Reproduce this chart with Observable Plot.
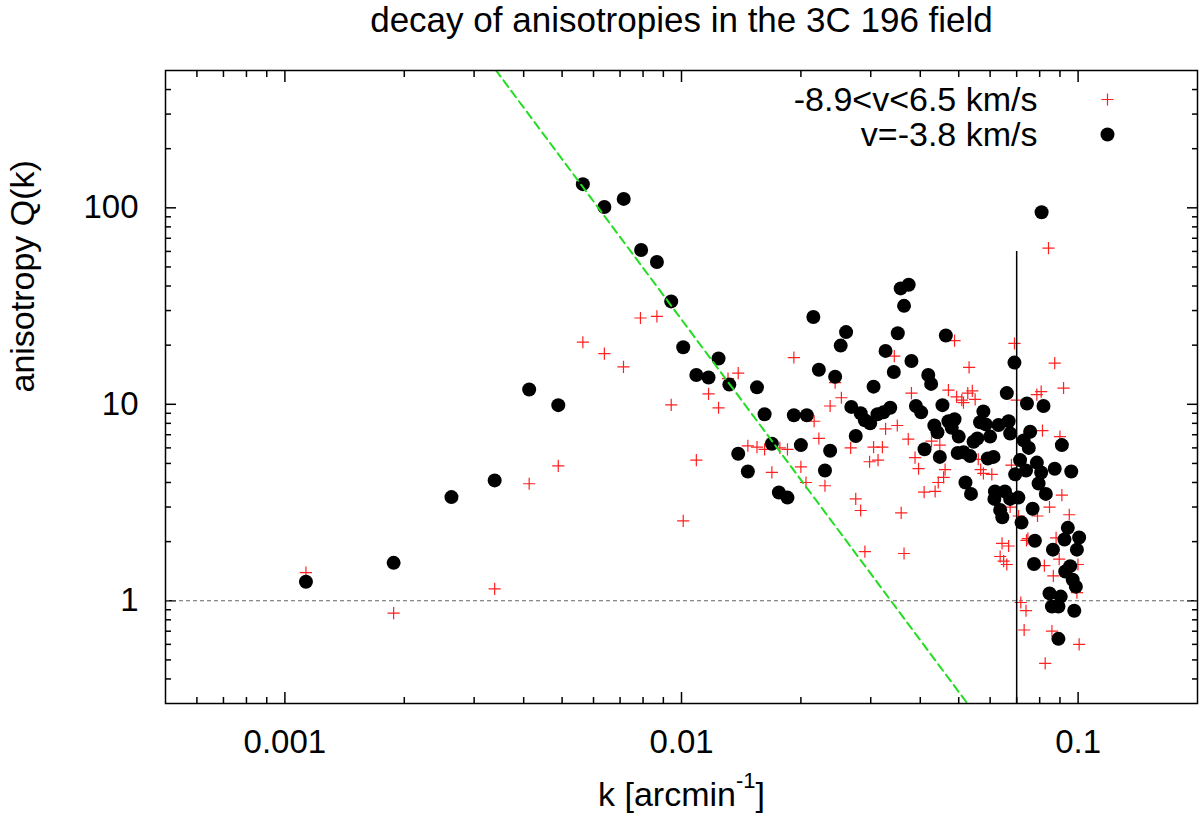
<!DOCTYPE html>
<html>
<head>
<meta charset="utf-8">
<script src="https://cdn.jsdelivr.net/npm/d3@7"></script>
<script src="https://cdn.jsdelivr.net/npm/@observablehq/plot@0.6"></script>
<style>
  body { margin: 0; background: white; }
</style>
</head>
<body>
<div id="chart"></div>
<script>
// k [arcmin^-1] and Q(k)
// -8.9<v<6.5 km/s (red crosses)
const kRed = [0.00788, 0.00867, 0.00564, 0.00639, 0.00714, 0.00942, 0.00489, 0.00413, 0.0101, 0.00113, 0.00338, 0.00188,
  0.0192, 0.0139, 0.0131, 0.0117, 0.0124, 0.0244, 0.0253, 0.0237, 0.0216, 0.0222, 0.0327, 0.035, 0.0267, 0.0305,
  0.0321, 0.0298, 0.0313, 0.0109, 0.0147, 0.0155, 0.0162, 0.0177, 0.0185, 0.0169, 0.020, 0.0206, 0.023, 0.0275,
  0.0283, 0.029, 0.0358, 0.0364, 0.0488, 0.0691, 0.0344, 0.0531, 0.0873, 0.0919, 0.038, 0.0471, 0.0527, 0.0541,
  0.0494, 0.0509, 0.0514, 0.055, 0.070, 0.0787, 0.0807, 0.0373, 0.0427, 0.0448, 0.0388, 0.0396, 0.0462, 0.0458,
  0.0444, 0.0436, 0.0409, 0.056, 0.0568, 0.0577, 0.0606, 0.0813, 0.090, 0.0679, 0.091, 0.0847, 0.095, 0.079,
  0.0708, 0.0674, 0.0643, 0.0668, 0.0747, 0.0741, 0.0636, 0.0649, 0.0661, 0.088, 0.0896, 0.0822, 0.0866, 0.0999,
  0.0993, 0.0717, 0.0739, 0.0731, 0.0859, 0.1006, 0.0826, 0.0842]
const qRed = [27.5, 28.0, 20.7, 18.1, 15.5, 9.94, 4.86, 3.94, 2.55, 1.39, 1.15, 0.866,
  17.3, 14.4, 13.5, 11.3, 9.6, 12.9, 10.8, 9.8, 8.2, 6.7, 7.5, 7.8, 6.0, 6.05,
  6.05, 5.1, 5.2, 5.2, 6.15, 6.05, 5.9, 6.0, 5.9, 4.5, 4.8, 4.0, 3.85, 3.3,
  2.88, 1.78, 2.8, 1.74, 21.1, 20.4, 17.6, 15.4, 16.2, 12.1, 11.4, 11.8, 11.4, 11.7,
  10.9, 10.5, 10.2, 10.6, 10.5, 11.2, 11.6, 6.65, 6.5, 6.2, 5.35, 4.7, 4.65, 4.25,
  4.0, 3.6, 3.57, 5.25, 4.65, 4.45, 4.4, 7.35, 6.85, 4.9, 3.45, 3.0, 2.74, 2.7,
  2.7, 3.0, 1.96, 1.9, 2.07, 2.03, 1.68, 1.59, 1.53, 2.09, 1.63, 1.51, 1.34, 1.53,
  1.1, 0.98, 0.89, 0.71, 0.70, 0.60, 0.48, 62.4]

// v=-3.8 km/s (black dots)
const kBlack = [0.00564, 0.00639, 0.00715, 0.00791, 0.00867, 0.00942, 0.0101, 0.00413, 0.00489, 0.00338, 0.00263, 0.00188,
  0.00113, 0.0124, 0.0109, 0.0117, 0.0132, 0.0155, 0.0215, 0.026, 0.0252, 0.0222, 0.0244, 0.0305, 0.0327, 0.0343,
  0.0351, 0.0357, 0.0374, 0.0364, 0.0162, 0.0192, 0.0207, 0.0268, 0.0283, 0.029, 0.0299, 0.0312, 0.0323, 0.0336,
  0.0275, 0.0169, 0.020, 0.0139, 0.0237, 0.0147, 0.023, 0.0176, 0.0185, 0.0464, 0.038, 0.0419, 0.0426, 0.0691,
  0.0661, 0.0743, 0.0818, 0.039, 0.0402, 0.0455, 0.0434, 0.0442, 0.0471, 0.0488, 0.048, 0.050, 0.0577, 0.0566,
  0.0585, 0.063, 0.0668, 0.0674, 0.0757, 0.060, 0.0557, 0.0545, 0.041, 0.0448, 0.0497, 0.0514, 0.0534, 0.0592,
  0.0612, 0.0729, 0.0751, 0.091, 0.0714, 0.0787, 0.0694, 0.0739, 0.0807, 0.0873, 0.0961, 0.052, 0.0537, 0.0795,
  0.0829, 0.0617, 0.0654, 0.0615, 0.0674, 0.0707, 0.0636, 0.0644, 0.0768, 0.072, 0.0942, 0.0924, 0.1006, 0.0993,
  0.0778, 0.0864, 0.0774, 0.0955, 0.0928, 0.0969, 0.0987, 0.0847, 0.0904, 0.0859, 0.0892, 0.0978, 0.0892, 0.0809]
const qBlack = [132, 101, 111, 61, 53, 33.4, 19.5, 11.9, 9.9, 4.1, 3.37, 1.56,
  1.25, 17.1, 14.1, 13.7, 12.6, 12.2, 27.8, 23.3, 19.9, 15.0, 13.8, 12.3, 18.7, 14.6,
  23.0, 38.9, 40.6, 31.7, 8.9, 8.8, 8.8, 9.7, 9.0, 8.3, 8.0, 8.9, 9.1, 9.6,
  6.9, 6.3, 6.2, 5.6, 5.8, 4.55, 4.6, 3.56, 3.35, 22.4, 16.6, 14.1, 12.7, 16.3,
  11.4, 10.1, 9.8, 9.8, 9.1, 9.9, 7.8, 7.2, 8.2, 8.4, 7.6, 6.85, 9.2, 8.1,
  7.9, 7.85, 8.2, 7.1, 7.25, 6.85, 6.7, 6.45, 5.9, 5.4, 5.65, 5.7, 5.45, 5.3,
  5.4, 6.55, 6.0, 6.2, 5.2, 5.05, 4.4, 4.6, 4.5, 4.7, 4.55, 4.0, 3.5, 3.95,
  3.5, 3.6, 3.6, 3.3, 3.3, 3.35, 2.9, 2.66, 2.94, 2.5, 2.35, 2.05, 2.1, 1.82,
  2.02, 1.82, 1.54, 1.5, 1.41, 1.28, 1.18, 1.09, 1.05, 0.935, 0.935, 0.89, 0.64, 95]

// green dashed power law, ends where it leaves the frame
const fitK = [0.0034, 0.0524]
const fitQ = [503, 0.303]

// vertical marker
const kMark = 0.07
const qMarkTop = 60

// ticks
const xMajor = [0.001, 0.01, 0.1]
const xTickLabels = ["0.001", "0.01", "0.1"]
const xMinor = [0.0006, 0.0007, 0.0008, 0.0009, 0.002, 0.003, 0.004, 0.005, 0.006, 0.007, 0.008, 0.009,
  0.02, 0.03, 0.04, 0.05, 0.06, 0.07, 0.08, 0.09]
const yMajor = [1, 10, 100]
const yTickLabels = ["1", "10", "100"]
const yMinor = [0.4, 0.5, 0.6, 0.7, 0.8, 0.9, 2, 3, 4, 5, 6, 7, 8, 9,
  20, 30, 40, 50, 60, 70, 80, 90, 200, 300, 400]

const seriesNames = ["-8.9<v<6.5 km/s", "v=-3.8 km/s"]
const title = "decay of anisotropies in the 3C 196 field"
const xLabel = "k [arcmin-1]"
const yLabel = "anisotropy Q(k)"

const red = kRed.map((k, i) => ({k, q: qRed[i]}))
const black = kBlack.map((k, i) => ({k, q: qBlack[i]}))
const fit = fitK.map((k, i) => ({k, q: fitQ[i]}))
const xLab = new Map(xMajor.map((v, i) => [v, xTickLabels[i]]))
const yLab = new Map(yMajor.map((v, i) => [v, yTickLabels[i]]))

const redColor = "#ff2020"
const font = "'Liberation Sans', Arial, Helvetica, sans-serif"

let chart = Plot.plot({
  width: 1200,
  height: 816,
  marginLeft: 165,
  marginRight: 3,
  marginTop: 70,
  marginBottom: 113,
  style: {fontFamily: font, fontSize: "33px", background: "white", color: "black"},
  x: {type: "log", domain: [0.0005, 0.2]},
  y: {type: "log", domain: [0.3, 500]},
  marks: [
    // inward ticks on all four sides
    Plot.axisX(xMajor, {anchor: "bottom", tickSize: -11, text: null, strokeWidth: 1.5, label: null}),
    Plot.axisX(xMajor, {anchor: "top", tickSize: -11, text: null, strokeWidth: 1.5, label: null}),
    Plot.axisX(xMinor, {anchor: "bottom", tickSize: -6, text: null, strokeWidth: 1.5, label: null}),
    Plot.axisX(xMinor, {anchor: "top", tickSize: -6, text: null, strokeWidth: 1.5, label: null}),
    Plot.axisY(yMajor, {anchor: "left", tickSize: -11, text: null, strokeWidth: 1.5, label: null}),
    Plot.axisY(yMajor, {anchor: "right", tickSize: -11, text: null, strokeWidth: 1.5, label: null}),
    Plot.axisY(yMinor, {anchor: "left", tickSize: -6, text: null, strokeWidth: 1.5, label: null}),
    Plot.axisY(yMinor, {anchor: "right", tickSize: -6, text: null, strokeWidth: 1.5, label: null}),
    // tick labels
    Plot.axisX(xMajor, {anchor: "bottom", tickSize: 0, tickPadding: 26, tickFormat: d => xLab.get(d), label: null, fontSize: 33}),
    Plot.axisY(yMajor, {anchor: "left", tickSize: 0, tickPadding: 27, tickFormat: d => yLab.get(d), label: null, fontSize: 33}),
    Plot.ruleY([1], {stroke: "#666", strokeWidth: 1.2, strokeDasharray: "4,3"}),
    Plot.dot(red, {x: "k", y: "q", symbol: "plus", r: 4, stroke: redColor, strokeWidth: 1.2}),
    Plot.dot(black, {x: "k", y: "q", r: 7, fill: "black", stroke: null}),
    Plot.line(fit, {x: "k", y: "q", stroke: "#22dd22", strokeWidth: 2, strokeDasharray: "8,5", clip: true}),
    Plot.ruleX([kMark], {y1: 0.3, y2: qMarkTop, stroke: "black", strokeWidth: 1.5}),
    Plot.frame({stroke: "black", strokeWidth: 1.5}),
    // legend
    Plot.text([seriesNames[0]], {frameAnchor: "top-right", dx: -160, dy: 30, textAnchor: "end", lineAnchor: "middle", fontSize: 34}),
    Plot.text([seriesNames[1]], {frameAnchor: "top-right", dx: -160, dy: 65, textAnchor: "end", lineAnchor: "middle", fontSize: 34}),
    Plot.dot([0], {frameAnchor: "top-right", dx: -90, dy: 29, symbol: "plus", r: 4, stroke: redColor, strokeWidth: 1.2}),
    Plot.dot([0], {frameAnchor: "top-right", dx: -90, dy: 64, r: 7, fill: "black", stroke: null}),
    // title and axis labels
    Plot.text([title], {frameAnchor: "top", dy: -50, lineAnchor: "middle", fontSize: 35}),
    Plot.text([yLabel], {frameAnchor: "left", dx: -142.6, dy: 5.5, rotate: -90, lineAnchor: "middle", fontSize: 34}),
    Plot.text([xLabel], {frameAnchor: "bottom", dy: 92, lineAnchor: "middle", fontSize: 34})
  ]
})

// superscript for the x label
d3.select(chart).selectAll("text")
  .filter(function () { return this.textContent === xLabel })
  .each(function () {
    const t = d3.select(this)
    t.text(null)
    t.append("tspan").text("k [arcmin")
    t.append("tspan").attr("dy", -18).attr("font-size", 22).text("-1")
    t.append("tspan").attr("dy", 18).text("]")
  })

d3.select('#chart').append(() => chart)
</script>
</body>
</html>
